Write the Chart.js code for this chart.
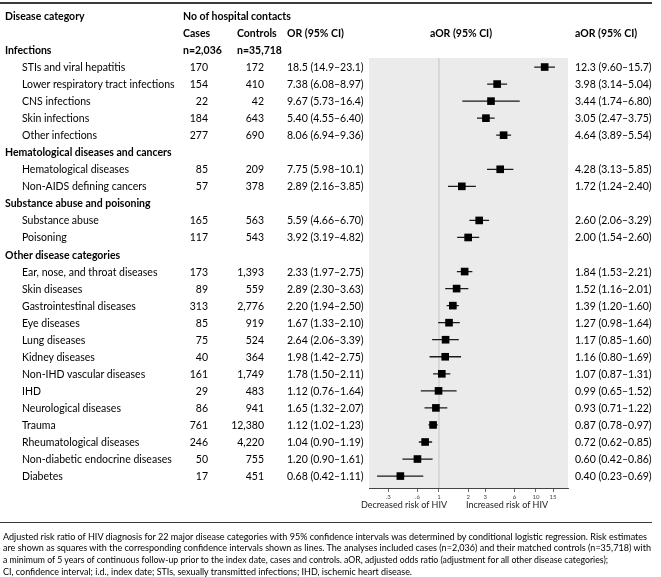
<!DOCTYPE html>
<html>
<head>
<meta charset="utf-8">
<script src="https://cdn.jsdelivr.net/npm/chart.js@4.4.1/dist/chart.umd.min.js"></script>
<style>
  body { margin: 0; background: #fff; }
  #wrap { position: relative; width: 661px; height: 577px; overflow: hidden;
          font-family: Lato, 'Noto Sans', sans-serif; color: #000; }
  #wrap canvas { position: absolute; left: 0; top: 0; }
  .t { position: absolute; white-space: nowrap; font-size: 10.5px; line-height: 14px; }
  .b { font-weight: bold; }
  .axl { font-size: 9px; color: #222; }
  .rule { position: absolute; left: 0; width: 652px; background: #3a3a3a; }
  .note { position: absolute; left: 3px; white-space: nowrap; width: max-content;
          font-size: 9.6px; line-height: 11px; transform-origin: 0 50%; }
</style>
</head>
<body>
<div id="wrap">
  <canvas id="forest" width="661" height="577"></canvas>
</div>
<script>
// rows of the table / forest plot, top to bottom (null = group header row)
const rowNames = [
  'STIs and viral hepatitis', 'Lower respiratory tract infections', 'CNS infections',
  'Skin infections', 'Other infections',
  'Hematological diseases and cancers', 'Hematological diseases', 'Non-AIDS defining cancers',
  'Substance abuse and poisoning', 'Substance abuse', 'Poisoning',
  'Other disease categories', 'Ear, nose, and throat diseases', 'Skin diseases',
  'Gastrointestinal diseases', 'Eye diseases', 'Lung diseases', 'Kidney diseases',
  'Non-IHD vascular diseases', 'IHD', 'Neurological diseases', 'Trauma',
  'Rheumatological diseases', 'Non-diabetic endocrine diseases', 'Diabetes'
];
const cases    = [170, 154, 22, 184, 277, null, 85, 57, null, 165, 117, null,
                  173, 89, 313, 85, 75, 40, 161, 29, 86, 761, 246, 50, 17];
const controls = [172, 410, 42, 643, 690, null, 209, 378, null, 563, 543, null,
                  1393, 559, 2776, 919, 524, 364, 1749, 483, 941, 12380, 4220, 755, 451];
const orVal = [18.5, 7.38, 9.67, 5.40, 8.06, null, 7.75, 2.89, null, 5.59, 3.92, null,
               2.33, 2.89, 2.20, 1.67, 2.64, 1.98, 1.78, 1.12, 1.65, 1.12, 1.04, 1.20, 0.68];
const orLo  = [14.9, 6.08, 5.73, 4.55, 6.94, null, 5.98, 2.16, null, 4.66, 3.19, null,
               1.97, 2.30, 1.94, 1.33, 2.06, 1.42, 1.50, 0.76, 1.32, 1.02, 0.90, 0.90, 0.42];
const orHi  = [23.1, 8.97, 16.4, 6.40, 9.36, null, 10.1, 3.85, null, 6.70, 4.82, null,
               2.75, 3.63, 2.50, 2.10, 3.39, 2.75, 2.11, 1.64, 2.07, 1.23, 1.19, 1.61, 1.11];
const aorVal = [12.3, 3.98, 3.44, 3.05, 4.64, null, 4.28, 1.72, null, 2.60, 2.00, null,
                1.84, 1.52, 1.39, 1.27, 1.17, 1.16, 1.07, 0.99, 0.93, 0.87, 0.72, 0.60, 0.40];
const aorLo  = [9.60, 3.14, 1.74, 2.47, 3.89, null, 3.13, 1.24, null, 2.06, 1.54, null,
                1.53, 1.16, 1.20, 0.98, 0.85, 0.80, 0.87, 0.65, 0.71, 0.78, 0.62, 0.42, 0.23];
const aorHi  = [15.7, 5.04, 6.80, 3.75, 5.54, null, 5.85, 2.40, null, 3.29, 2.60, null,
                2.21, 2.01, 1.60, 1.64, 1.60, 1.69, 1.31, 1.52, 1.22, 0.97, 0.85, 0.86, 0.69];
const xTicks = [0.3, 0.6, 1, 2, 3, 6, 10, 15];
const nCases = 2036;
const nControls = 35718;

const footnote = [
  'Adjusted risk  ratio of HIV diagnosis for 22 major disease categories with 95% confidence intervals was determined by conditional logistic regression.  Risk estimates',
  'are shown as squares with the corresponding confidence intervals shown as lines.  The analyses included cases (n=2,036) and their matched controls (n=35,718) with',
  'a minimum of 5 years of continuous follow-up prior to the index date, cases and controls.  aOR, adjusted odds ratio (adjustment for all other disease categories);',
  'CI, confidence interval; i.d., index date; STIs, sexually transmitted infections; IHD, ischemic heart disease.'
];

// ---- helpers ----
const fmt = v => v < 10 ? v.toFixed(2) : v.toFixed(1);
const ci = (v, lo, hi) => `${fmt(v)} (${fmt(lo)}\u2013${fmt(hi)})`;
const num = v => v.toLocaleString('en-US');

// squares
const pointData = [];
// CI lines, broken by null points
const ciData = [];
aorVal.forEach((v, i) => {
  if (v === null) return;
  pointData.push({ x: v, y: i });
  ciData.push({ x: aorLo[i], y: i }, { x: aorHi[i], y: i }, { x: aorHi[i], y: null });
});

const yMin = -0.53, yMax = 24.7;

const plotBg = {
  id: 'plotBg',
  beforeDraw(chart) {
    const { ctx, chartArea: a } = chart;
    ctx.save();
    ctx.fillStyle = '#ebebeb';
    ctx.fillRect(a.left, a.top, a.right - a.left, a.bottom - a.top);
    ctx.restore();
  }
};

const chart = new Chart(document.getElementById('forest'), {
  type: 'scatter',
  data: {
    datasets: [
      {
        data: pointData,
        pointStyle: 'rect',
        pointRadius: 5.4,
        backgroundColor: '#000',
        borderWidth: 0,
        order: 0
      },
      {
        type: 'line',
        data: ciData,
        borderColor: '#1a1a1a',
        borderWidth: 1.3,
        pointRadius: 0,
        spanGaps: false,
        fill: false,
        order: 1
      },
      {
        type: 'line',
        data: [{ x: 1, y: yMin }, { x: 1, y: yMax }],
        borderColor: '#d5d5d5',
        borderWidth: 1,
        pointRadius: 0,
        order: 2
      }
    ]
  },
  options: {
    responsive: false,
    animation: false,
    devicePixelRatio: 1,
    layout: { padding: { left: 369, right: 93, top: 58, bottom: 0 } },
    plugins: { legend: { display: false }, tooltip: { enabled: false } },
    scales: {
      x: {
        type: 'logarithmic',
        min: 0.19,
        max: 21.4,
        afterBuildTicks: s => { s.ticks = xTicks.map(v => ({ value: v })); },
        afterFit: s => { s.height = 89; },
        grid: { drawOnChartArea: false, drawTicks: true, tickLength: 4, color: '#444', lineWidth: 0.8 },
        border: { display: true, color: '#444', width: 1 },
        ticks: {
          autoSkip: false,
          maxRotation: 0,
          padding: 1,
          color: '#444',
          font: { family: 'Lato', size: 6 },
          callback: v => v < 1 ? '.' + String(v).slice(2) : String(v)
        }
      },
      y: {
        type: 'linear',
        reverse: true,
        min: yMin,
        max: yMax,
        display: false
      }
    }
  },
  plugins: [plotBg]
});

// ---- table text, aligned to the chart's rows ----
const wrap = document.getElementById('wrap');
function put(text, x, y, align, cls) {
  const d = document.createElement('div');
  d.className = 't ' + (cls || '');
  d.textContent = text;
  d.style.left = x + 'px';
  d.style.top = y + 'px';
  const tx = align === 'right' ? '-100%' : align === 'center' ? '-50%' : '0';
  d.style.transform = `translate(${tx},-50%)`;
  wrap.appendChild(d);
  return d;
}

const ys = chart.scales.y;
const rowY = i => ys.getPixelForValue(i);

// header rows
put('Disease category', 5, rowY(-3), 'left', 'b');
put('No of hospital contacts', 183, rowY(-3), 'left', 'b');
put('Cases', 183, rowY(-2), 'left', 'b');
put('Controls', 237, rowY(-2), 'left', 'b');
put('OR (95% CI)', 287, rowY(-2), 'left', 'b');
put('aOR (95% CI)', 461, rowY(-2), 'center', 'b');
put('aOR (95% CI)', 575, rowY(-2), 'left', 'b');
put('Infections', 5, rowY(-1), 'left', 'b');
put('n=' + num(nCases), 183, rowY(-1), 'left', 'b');
put('n=' + num(nControls), 237, rowY(-1), 'left', 'b');

rowNames.forEach((name, i) => {
  const y = rowY(i);
  if (cases[i] === null) { put(name, 5, y, 'left', 'b'); return; }
  put(name, 22, y, 'left');
  put(num(cases[i]), 208, y, 'right');
  put(num(controls[i]), 264, y, 'right');
  put(ci(orVal[i], orLo[i], orHi[i]), 287, y, 'left');
  put(ci(aorVal[i], aorLo[i], aorHi[i]), 575, y, 'left');
});

// axis captions
put('Decreased risk of HIV', 404, 505, 'center', 'axl');
put('Increased risk of HIV', 507, 505, 'center', 'axl');

// rules
function rule(y, h) {
  const r = document.createElement('div');
  r.className = 'rule';
  r.style.top = y + 'px';
  r.style.height = h + 'px';
  wrap.appendChild(r);
}
rule(2, 2);
rule(521.5, 1.5);

// footnote, stretched to the reference line widths
const noteY = [536, 547.5, 559, 571];
const noteW = [644, 648, 605, 409];
const notes = footnote.map((line, i) => {
  const d = document.createElement('div');
  d.className = 'note';
  d.textContent = line;
  d.style.top = (noteY[i] - 5.5) + 'px';
  wrap.appendChild(d);
  return d;
});
function fitNotes() {
  notes.forEach((d, i) => {
    d.style.transform = 'none';
    const w = d.getBoundingClientRect().width;
    d.style.transform = `scaleX(${noteW[i] / w})`;
  });
}
fitNotes();
document.fonts.ready.then(fitNotes);
</script>
</body>
</html>
